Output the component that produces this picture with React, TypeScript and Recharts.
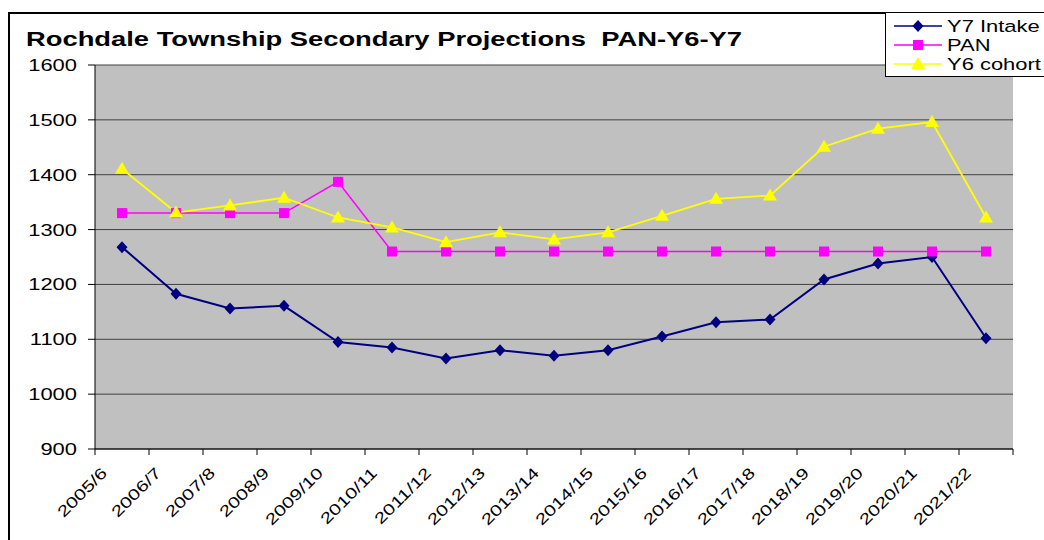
import { LineChart, Line, XAxis, YAxis, CartesianGrid, Legend } from 'recharts';

const years = [
  '2005/6', '2006/7', '2007/8', '2008/9', '2009/10', '2010/11', '2011/12', '2012/13', '2013/14',
  '2014/15', '2015/16', '2016/17', '2017/18', '2018/19', '2019/20', '2020/21', '2021/22',
];
const y7Intake = [1268, 1183, 1156, 1161, 1095, 1085, 1065, 1080, 1070, 1080, 1105, 1131, 1136, 1209, 1238, 1250, 1102];
const pan = [1330, 1330, 1330, 1330, 1387, 1260, 1260, 1260, 1260, 1260, 1260, 1260, 1260, 1260, 1260, 1260, 1260];
const y6Cohort = [1411, 1331, 1344, 1358, 1322, 1304, 1277, 1295, 1282, 1295, 1325, 1356, 1362, 1451, 1484, 1496, 1322];
const yTicks = [900, 1000, 1100, 1200, 1300, 1400, 1500, 1600];
const seriesOrder = ['y7', 'pan', 'y6'];

const FONT = 'Arial, "Liberation Sans", sans-serif';
const W = 1044;
const H = 540;
const MARGIN = { top: 65, right: 31, bottom: 11, left: 35 };
const Y_AXIS_W = 60;
const PLOT_W = W - MARGIN.left - MARGIN.right - Y_AXIS_W;
const BAND = PLOT_W / years.length;

const data = years.map((year, i) => ({
  year,
  y7: y7Intake[i],
  pan: pan[i],
  y6: y6Cohort[i],
}));

function diamond(cx: number, cy: number, key?: string) {
  return (
    <polygon
      key={key}
      points={`${cx},${cy - 6} ${cx + 5.5},${cy} ${cx},${cy + 6} ${cx - 5.5},${cy}`}
      fill="#000080"
    />
  );
}

function square(cx: number, cy: number, key?: string) {
  return <rect key={key} x={cx - 5} y={cy - 5} width={10} height={10} fill="#FF00FF" />;
}

function triangle(cx: number, cy: number, key?: string) {
  return (
    <polygon
      key={key}
      points={`${cx},${cy - 7} ${cx + 7},${cy + 5} ${cx - 7},${cy + 5}`}
      fill="#FFFF00"
    />
  );
}

const markers: Record<string, typeof diamond> = { y7: diamond, pan: square, y6: triangle };

const dotFor = (dataKey: string) => (props: any) => {
  const { cx, cy, index } = props;
  return markers[dataKey](cx, cy, `${dataKey}-${index}`);
};

function XTick(props: any) {
  const { x, y, payload, index } = props;
  return (
    <g>
      <line x1={x - BAND / 2} y1={y} x2={x - BAND / 2} y2={y + 6} stroke="#000" />
      {index === years.length - 1 && (
        <line x1={x + BAND / 2} y1={y} x2={x + BAND / 2} y2={y + 6} stroke="#000" />
      )}
      <text
        transform={`translate(${x - 14}, ${y + 25}) rotate(-45) scale(1.32, 1)`}
        textAnchor="end"
        fontSize={15.5}
        fontFamily={FONT}
        fill="#000"
      >
        {payload.value}
      </text>
    </g>
  );
}

function YTick(props: any) {
  const { x, y, payload } = props;
  return (
    <text
      transform={`translate(${x}, ${y}) scale(1.33, 1)`}
      textAnchor="end"
      dy="0.36em"
      fontSize={16.5}
      fontFamily={FONT}
      fill="#000"
    >
      {payload.value}
    </text>
  );
}

function LegendBox(props: any) {
  const entries = [...(props.payload || [])].sort(
    (a: any, b: any) => seriesOrder.indexOf(a.dataKey) - seriesOrder.indexOf(b.dataKey),
  );
  return (
    <div style={{ border: '1px solid #000', background: '#fff', width: 170, height: 65, boxSizing: 'border-box' }}>
      <svg width={168} height={63}>
        {entries.map((entry: any, i: number) => {
          const cy = 13 + i * 19;
          return (
            <g key={entry.dataKey}>
              <line x1={8} y1={cy} x2={56} y2={cy} stroke={entry.color} strokeWidth={1.5} />
              {markers[entry.dataKey](32, cy)}
              <text
                transform={`translate(61, ${cy}) scale(1.33, 1)`}
                dy="0.36em"
                fontSize={16.5}
                fontFamily={FONT}
                fill="#000"
              >
                {entry.value}
              </text>
            </g>
          );
        })}
      </svg>
    </div>
  );
}

export default function App() {
  return (
    <div
      style={{
        position: 'fixed',
        left: 0,
        top: 0,
        width: W,
        height: H,
        background: '#fff',
        overflow: 'hidden',
        fontFamily: FONT,
      }}
    >
      <div
        style={{
          position: 'absolute',
          left: 8,
          top: 12,
          width: 1100,
          height: 600,
          border: '2px solid #000',
        }}
      />
      <svg style={{ position: 'absolute', left: 0, top: 0 }} width={W} height={60}>
        <text
          x={26}
          y={46}
          fontSize={19.5}
          fontWeight="bold"
          fontFamily={FONT}
          textLength={716}
          lengthAdjust="spacingAndGlyphs"
          style={{ whiteSpace: 'pre' }}
        >
          Rochdale Township Secondary Projections  PAN-Y6-Y7
        </text>
      </svg>
      <div style={{ position: 'absolute', left: 0, top: 0 }}>
        <LineChart width={W} height={H} data={data} margin={MARGIN}>
          <CartesianGrid vertical={false} stroke="#404040" fill="#C0C0C0" fillOpacity={1} />
          <XAxis
            dataKey="year"
            scale="band"
            interval={0}
            height={80}
            tickSize={0}
            tickMargin={0}
            tickLine={false}
            axisLine={{ stroke: '#000' }}
            tick={<XTick />}
          />
          <YAxis
            domain={[900, 1600]}
            ticks={yTicks}
            width={Y_AXIS_W}
            tickSize={7}
            tickMargin={11}
            tickLine={{ stroke: '#000' }}
            axisLine={{ stroke: '#000' }}
            tick={<YTick />}
            allowDataOverflow
          />
          <YAxis
            yAxisId="frame"
            orientation="right"
            domain={[900, 1600]}
            width={0}
            tick={false}
            tickLine={false}
            axisLine={{ stroke: '#808080' }}
          />
          <Legend
            layout="horizontal"
            verticalAlign="middle"
            align="center"
            content={<LegendBox />}
            wrapperStyle={{ left: 885, top: 12, width: 170, height: 65 }}
          />
          <Line
            dataKey="y7"
            name="Y7 Intake"
            stroke="#000080"
            strokeWidth={2}
            dot={dotFor('y7')}
            activeDot={false}
            isAnimationActive={false}
          />
          <Line
            dataKey="pan"
            name="PAN"
            stroke="#FF00FF"
            strokeWidth={1.5}
            dot={dotFor('pan')}
            activeDot={false}
            isAnimationActive={false}
          />
          <Line
            dataKey="y6"
            name="Y6 cohort"
            stroke="#FFFF00"
            strokeWidth={1.8}
            dot={dotFor('y6')}
            activeDot={false}
            isAnimationActive={false}
          />
        </LineChart>
      </div>
    </div>
  );
}
